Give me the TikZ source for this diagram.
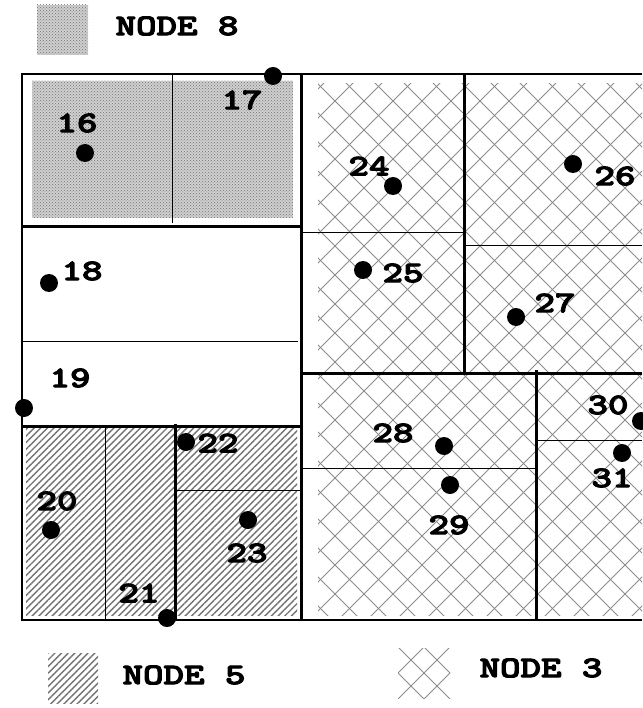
\documentclass[tikz,border=0pt]{standalone}
\usepackage{graphicx}
\usepackage{fontspec}
\newfontfamily\courb[FakeBold=3]{lmmonolt10-bold.otf}
\usetikzlibrary{patterns,patterns.meta}
\newcommand\mylab[1]{\scalebox{1.3}[1]{#1}}
\begin{document}
\begin{tikzpicture}[x=1pt,y=-1pt,
  thinl/.style={line width=1pt},
  thickl/.style={line width=3pt},
  border/.style={line width=1.8pt},
  dot/.style={circle,fill=black,inner sep=0pt,minimum size=18pt},
  lbl/.style={font=\courb\fontsize{30}{30}\selectfont,inner sep=0pt},
  dotfill/.style={fill=gray!38,postaction={pattern=crosshatch dots,pattern color=black!55}},
  hatchfill/.style={pattern={Lines[angle=45,distance=4.7pt,line width=1.4pt]},pattern color=black!55},
  xline/.style={draw=black!45,line width=0.9pt}]
\useasboundingbox (0,0) rectangle (642,708);

% fills
\fill[dotfill] (32,81) rectangle (293,218);
\fill[hatchfill] (26,428) rectangle (297,615);
\begin{scope}
  \clip (318,84) rectangle (642,615);
  \foreach \k in {-2,...,30}{\pgfmathsetmacro\c{436+29*\k}
    \draw[xline] ({\c-700},700) -- (\c,0);}
  \foreach \k in {-20,...,12}{\pgfmathsetmacro\d{234+29*\k}
    \draw[xline] (\d,0) -- ({\d+700},700);}
\end{scope}

% outer border
\draw[border] (642,74) -- (22,74) -- (22,620) -- (642,620);

% left column
\draw[thinl] (172,74) -- (172,223);
\draw[thickl] (22,227) -- (300,227);
\draw[thinl] (22,341) -- (298,341);
\draw[thickl] (22,426) -- (300,426);
\draw[thinl] (105,426) -- (105,620);
\draw[thickl] (175,424) -- (175,620);
\draw[thinl] (175,490) -- (300,490);
% main divider
\draw[thickl] (301,74) -- (301,620);
% right part
\draw[thickl] (464,74) -- (464,372);
\draw[thinl] (301,233) -- (464,233);
\draw[thinl] (464,246) -- (642,246);
\draw[thickl] (301,373) -- (642,373);
\draw[thickl] (536,370) -- (536,620);
\draw[thinl] (301,468) -- (536,468);
\draw[thinl] (536,440) -- (642,440);

% dots
\node[dot] (d16) at (85,153) {};
\node[dot] (d17) at (273,76) {};
\node[dot] (d18) at (49,283) {};
\node[dot] (d19) at (24,408) {};
\node[dot] (d20) at (51,530) {};
\node[dot] (d21) at (167,618) {};
\node[dot] (d22) at (186,442) {};
\node[dot] (d23) at (248,520) {};
\node[dot] (d24) at (393,186) {};
\node[dot] (d25) at (363,270) {};
\node[dot] (d26) at (573,164) {};
\node[dot] (d27) at (516,317) {};
\node[dot] (d28) at (444,446) {};
\node[dot] (d29) at (450,485) {};
\node[dot] (d30) at (641,421) {};
\node[dot] (d31) at (622,453) {};

% labels
\node[lbl] (l16) at (77,123) {\mylab{16}};
\node[lbl] (l17) at (242,100) {\mylab{17}};
\node[lbl] (l18) at (82,271) {\mylab{18}};
\node[lbl] (l19) at (70,378) {\mylab{19}};
\node[lbl] (l20) at (57,501) {\mylab{20}};
\node[lbl] (l21) at (139,593) {\mylab{21}};
\node[lbl] (l22) at (218,443) {\mylab{22}};
\node[lbl] (l23) at (247,553) {\mylab{23}};
\node[lbl] (l24) at (369,166) {\mylab{24}};
\node[lbl] (l25) at (403,273) {\mylab{25}};
\node[lbl] (l26) at (615,176) {\mylab{26}};
\node[lbl] (l27) at (555,303) {\mylab{27}};
\node[lbl] (l28) at (393,433) {\mylab{28}};
\node[lbl] (l29) at (449,525) {\mylab{29}};
\node[lbl] (l30) at (608,405) {\mylab{30}};
\node[lbl] (l31) at (612,478) {\mylab{31}};

% legends
\fill[dotfill] (37,5) rectangle (88,55);
\node[lbl] (t8) at (177,26) {\mylab{NODE 8}};
\fill[hatchfill] (48,653) rectangle (98,703);
\node[lbl] (t5) at (184,675) {\mylab{NODE 5}};
\begin{scope}
  \clip (398,648) rectangle (450,698);
  \foreach \k in {-6,...,6}{\pgfmathsetmacro\c{1071+26*\k}
    \draw[xline] ({\c-700},700) -- (\c,0);}
  \foreach \k in {-6,...,6}{\pgfmathsetmacro\d{-249+26*\k}
    \draw[xline] (\d,0) -- ({\d+700},700);}
\end{scope}
\node[lbl] (t3) at (541,668) {\mylab{NODE 3}};
\end{tikzpicture}
\end{document}
